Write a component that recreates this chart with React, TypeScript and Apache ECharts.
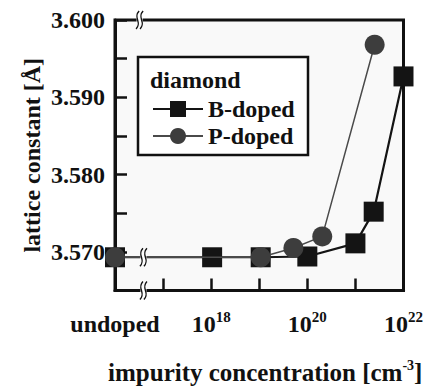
import React, { useEffect, useRef } from 'react';
import * as echarts from 'echarts';

// x values are log10 of impurity concentration; 16 stands for "undoped"
const xTicks = [16, 17, 18, 19, 20, 21, 22];
const xTickLabels: Record<number, string> = { 16: 'undoped', 18: '18', 20: '20', 22: '22' };
const yTickLabels = ['3.570', '3.580', '3.590', '3.600'];

const bDopedX = [16, 18.02, 19.03, 20.0, 21.0, 21.38, 22.0];
const bDopedY = [3.5693, 3.5693, 3.5693, 3.5694, 3.5711, 3.5752, 3.5927];
const pDopedX = [16, 19.03, 19.71, 20.31, 21.4];
const pDopedY = [3.5693, 3.5693, 3.5705, 3.572, 3.5968];

const legendTitle = 'diamond';
const seriesNames = ['B-doped', 'P-doped'];
const breakX = 16.55;
const breakXTop = 16.47;

const FONT = '"Liberation Serif", "Times New Roman", serif';

function squiggle(x: number, y: number, z: number) {
  const h = 9;
  const curve = (dx: number) => ({
    type: 'bezierCurve',
    z,
    shape: {
      x1: x + dx + 1.5, y1: y - h,
      cpx1: x + dx - 5, cpy1: y - 2,
      cpx2: x + dx + 5, cpy2: y + 2,
      x2: x + dx - 1.5, y2: y + h,
    },
    style: { stroke: '#111', lineWidth: 1.4, fill: null },
  });
  return [
    { type: 'rect', z, shape: { x: x - 1, y: y - 4, width: 6, height: 8 }, style: { fill: '#fff' } },
    curve(0),
    curve(4),
  ];
}

export default function App() {
  const ref = useRef<HTMLDivElement>(null);
  useEffect(() => {
    const chart = echarts.init(ref.current!, null, { renderer: 'svg' });
    const txt = { fontFamily: FONT, fontWeight: 'bold', color: '#111' };
    const option: any = {
      animation: false,
      textStyle: { fontFamily: FONT },
      grid: {
        left: 115, top: 20, width: 291, height: 281,
        show: true, backgroundColor: '#f9f9f9', borderColor: '#111', borderWidth: 3,
      },
      legend: {
        data: seriesNames,
        orient: 'vertical',
        left: 152,
        top: 97,
        padding: 0,
        itemWidth: 50,
        itemHeight: 20,
        itemGap: 3,
        textStyle: { ...txt, fontSize: 24 },
        z: 6,
      },
      xAxis: {
        type: 'value',
        min: 16,
        max: 22,
        interval: 1,
        splitLine: { show: false },
        axisLine: { lineStyle: { color: '#111', width: 3 } },
        axisTick: { inside: true, length: 12, lineStyle: { color: '#111', width: 2.5 } },
        axisLabel: {
          margin: 19,
          formatter: (v: number) => {
            const k = Math.round(v);
            const t = xTickLabels[k];
            if (!t) return '';
            if (k === 16) return '{u|' + t + '}';
            return '{b|10}{s|' + t + '}';
          },
          rich: {
            u: { ...txt, fontSize: 24, lineHeight: 28 },
            b: { ...txt, fontSize: 24, lineHeight: 28 },
            s: { ...txt, fontSize: 15, verticalAlign: 'top', lineHeight: 16 },
          },
        },
        name: '{n|impurity concentration [cm}{s|-3}{n|]}',
        nameLocation: 'middle',
        nameGap: 68,
        nameMoveOverlap: false,
        nameTextStyle: {
          padding: [0, 0, 0, 12],
          rich: {
            n: { ...txt, fontSize: 25, lineHeight: 28 },
            s: { ...txt, fontSize: 14, verticalAlign: 'top', lineHeight: 14 },
          },
        },
      },
      yAxis: {
        type: 'value',
        min: 3.565,
        max: 3.6,
        interval: 0.005,
        splitLine: { show: false },
        axisLine: { lineStyle: { color: '#111', width: 3 } },
        axisTick: { inside: true, length: 12, lineStyle: { color: '#111', width: 2.5 } },
        axisLabel: {
          margin: 10,
          ...txt,
          fontSize: 24,
          formatter: (v: number) => {
            const s = v.toFixed(3);
            return yTickLabels.includes(s) ? s : '';
          },
        },
        name: 'lattice constant [Å]',
        nameLocation: 'middle',
        nameGap: 71,
        nameMoveOverlap: false,
        nameTextStyle: { ...txt, fontSize: 24 },
      },
      series: [
        {
          name: seriesNames[0],
          type: 'line',
          z: 2,
          data: bDopedX.map((x, i) => [x, bDopedY[i]]),
          symbol: 'rect',
          symbolSize: 20,
          itemStyle: { color: '#141414' },
          lineStyle: { color: '#141414', width: 2.2 },
        },
        {
          name: seriesNames[1],
          type: 'line',
          z: 3,
          data: pDopedX.map((x, i) => [x, pDopedY[i]]),
          symbol: 'circle',
          symbolSize: 20,
          itemStyle: { color: '#3d3d3d' },
          lineStyle: { color: '#4a4a4a', width: 1.5 },
        },
      ],
    };
    chart.setOption(option);

    const [bx, by] = chart.convertToPixel({ gridIndex: 0 }, [breakX, bDopedY[0]]) as number[];
    const [, bottomY] = chart.convertToPixel({ gridIndex: 0 }, [breakX, 3.565]) as number[];
    const [tx, topY] = chart.convertToPixel({ gridIndex: 0 }, [breakXTop, 3.6]) as number[];

    chart.setOption({
      graphic: [
        {
          type: 'rect', z: 5,
          shape: { x: 138, y: 57, width: 170, height: 98 },
          style: { fill: '#fff', stroke: '#111', lineWidth: 2.5 },
        },
        {
          type: 'text', z: 6, x: 150, y: 80,
          style: {
            text: legendTitle, fontFamily: FONT, fontWeight: 'bold', fontSize: 24, fill: '#111',
            verticalAlign: 'middle', align: 'left',
          },
        },
        ...squiggle(bx, by, 4),
        ...squiggle(bx, bottomY, 4),
        ...squiggle(tx, topY, 4),
      ],
    });
    return () => chart.dispose();
  }, []);
  return <div ref={ref} style={{ position: 'absolute', left: 0, top: 0, width: 426, height: 390 }} />;
}
